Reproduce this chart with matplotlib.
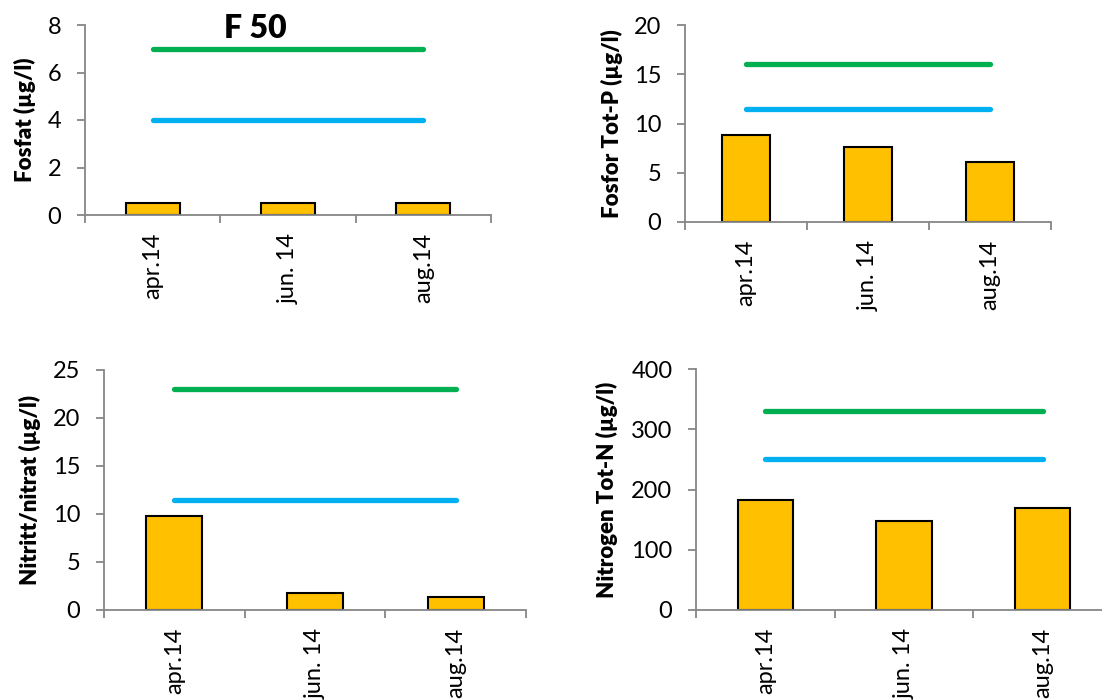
import matplotlib
matplotlib.use("Agg")
import matplotlib.pyplot as plt
import numpy as np

plt.rcParams['font.family'] = ['Lato', 'DejaVu Sans']

categories = ["apr.14", "jun. 14", "aug.14"]

fosfat = [0.5, 0.5, 0.5]
fosfat_green = 7
fosfat_blue = 4

totp = [8.8, 7.6, 6.1]
totp_green = 16
totp_blue = 11.5

nitrat = [9.8, 1.8, 1.4]
nitrat_green = 23
nitrat_blue = 11.5

totn = [182, 147, 170]
totn_green = 330
totn_blue = 250

panels = [
    dict(vals=fosfat, green=fosfat_green, blue=fosfat_blue, ylim=8, step=2,
         ylabel="Fosfat (µg/l)", rect=[85, 25, 491, 215], ylx=25),
    dict(vals=totp, green=totp_green, blue=totp_blue, ylim=20, step=5,
         ylabel="Fosfor Tot-P (µg/l)", rect=[685, 25, 1051, 222], ylx=612),
    dict(vals=nitrat, green=nitrat_green, blue=nitrat_blue, ylim=25, step=5,
         ylabel="Nitritt/nitrat (µg/l)", rect=[104, 370, 526, 610], ylx=30),
    dict(vals=totn, green=totn_green, blue=totn_blue, ylim=400, step=100,
         ylabel="Nitrogen Tot-N (µg/l)", rect=[696, 369, 1112, 610], ylx=607),
]

W, H = 1102, 700
fig = plt.figure(figsize=(W / 100, H / 100), dpi=100)

axis_gray = "#868686"
bar_color = "#FFC000"
green = "#00B050"
blue = "#00B0F0"

for p in panels:
    x0, y0, x1, y1 = p["rect"]
    ax = fig.add_axes([x0 / W, 1 - y1 / H, (x1 - x0) / W, (y1 - y0) / H])
    ax.set_facecolor("none")
    x = np.arange(len(categories))
    ax.bar(x, p["vals"], width=0.4, color=bar_color, edgecolor="black",
           linewidth=1.5, zorder=2)
    ax.plot([x[0], x[-1]], [p["blue"]] * 2, color=blue, linewidth=3.8,
            solid_capstyle="round", zorder=3)
    ax.plot([x[0], x[-1]], [p["green"]] * 2, color=green, linewidth=3.8,
            solid_capstyle="round", zorder=3)
    ax.set_xlim(-0.5, len(categories) - 0.5)
    ax.set_ylim(0, p["ylim"])
    ax.set_yticks(np.arange(0, p["ylim"] + p["step"] / 2, p["step"]))
    ax.set_xticks(x)
    ax.set_xticklabels(categories, rotation=90, fontsize=17, va="top", ha="center")
    ax.set_xticks(np.arange(-0.5, len(categories), 1.0), minor=True)
    ax.tick_params(axis="x", which="major", length=0, pad=13)
    ax.tick_params(axis="x", which="minor", length=6, width=1.3, color=axis_gray,
                   direction="out")
    ax.tick_params(axis="y", length=6, width=1.3, color=axis_gray, labelsize=17,
                   pad=11, direction="out")
    for s in ["top", "right"]:
        ax.spines[s].set_visible(False)
    for s in ["left", "bottom"]:
        ax.spines[s].set_color(axis_gray)
        ax.spines[s].set_linewidth(1.3)
    fig.text(p["ylx"] / W, 1 - ((y0 + y1) / 2) / H, p["ylabel"], rotation=90,
             fontsize=16, fontweight="heavy", ha="center", va="center")

fig.text(255 / W, 1 - 29 / H, "F 50", fontsize=23, fontweight="heavy",
         ha="center", va="center")

fig.savefig("out.png", dpi=100)
